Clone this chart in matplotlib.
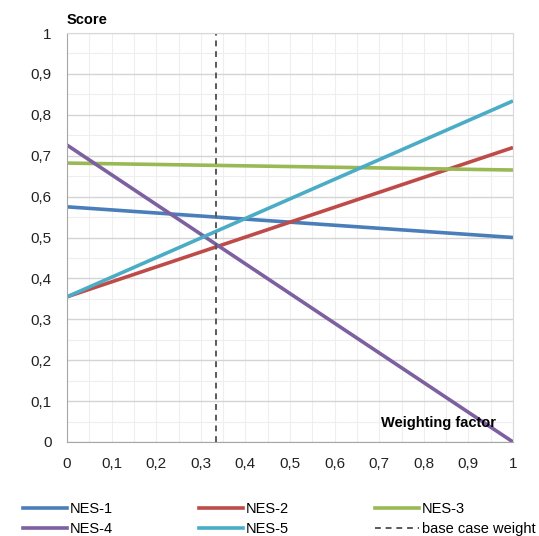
import matplotlib
matplotlib.use("Agg")
import matplotlib.pyplot as plt
from matplotlib.ticker import MultipleLocator, FuncFormatter
from matplotlib.lines import Line2D

plt.rcParams['font.family'] = ['Liberation Sans', 'DejaVu Sans']

# Weighting factor range (end points of each linear score line)
weights = [0.0, 1.0]
nes1 = [0.575, 0.500]
nes2 = [0.355, 0.720]
nes3 = [0.682, 0.665]
nes4 = [0.726, 0.000]
nes5 = [0.355, 0.834]
base_case_weight = 1 / 3

series_names = ["NES-1", "NES-2", "NES-3", "NES-4", "NES-5"]
series_values = [nes1, nes2, nes3, nes4, nes5]
series_colors = ["#4A7EBB", "#BE4B48", "#98B954", "#7D60A0", "#4BACC6"]

fig = plt.figure(figsize=(5.39, 5.36), dpi=100)
ax = fig.add_axes([0.1243, 0.1754, 0.8275, 0.763])

ax.set_xlim(0, 1)
ax.set_ylim(0, 1)

# grid: major every 0.1 horizontally, minor every 0.05
ax.xaxis.set_major_locator(MultipleLocator(0.1))
ax.yaxis.set_major_locator(MultipleLocator(0.1))
ax.xaxis.set_minor_locator(MultipleLocator(0.05))
ax.yaxis.set_minor_locator(MultipleLocator(0.05))
ax.grid(which='major', axis='y', color='#d4d4d4', linewidth=1.0)
ax.grid(which='minor', axis='y', color='#eeeeee', linewidth=0.8)
ax.grid(which='both', axis='x', color='#eeeeee', linewidth=0.8)
ax.set_axisbelow(True)

fmt = FuncFormatter(lambda v, p: ("%g" % round(v, 2)).replace('.', ','))
ax.xaxis.set_major_formatter(fmt)
ax.yaxis.set_major_formatter(fmt)
ax.tick_params(which='both', length=0, labelsize=11, colors='#222222')
ax.tick_params(axis='x', pad=11)
ax.tick_params(axis='y', pad=11)

for s in ax.spines.values():
    s.set_color('#d9d9d9')
ax.spines['left'].set_color('#a6a6a6')
ax.spines['bottom'].set_color('#a6a6a6')

for name, vals, col in zip(series_names, series_values, series_colors):
    ax.plot(weights, vals, color=col, linewidth=2.6, solid_capstyle='butt', label=name)

ax.axvline(base_case_weight, color='#595959', linestyle=(0, (3, 2.5)), linewidth=1.4)

ax.text(0.0, 1.032, "Score", transform=ax.transAxes, fontsize=10.5,
        fontweight='bold', ha='left', va='center')
ax.text(0.962, 0.047, "Weighting factor", transform=ax.transAxes, fontsize=10.5,
        fontweight='bold', ha='right', va='center')

handles = [Line2D([], [], color=c, linewidth=2.6) for c in series_colors]
handles.append(Line2D([], [], color='#595959', linestyle=(0, (3, 2.5)), linewidth=1.4))
labels = series_names + ["base case weight"]
order = [0, 3, 1, 4, 2, 5]
fig.legend([handles[i] for i in order], [labels[i] for i in order],
           loc='lower left', bbox_to_anchor=(0.019, -0.024), ncol=3,
           frameon=False, fontsize=10.5, handlelength=3.0, handletextpad=0.2,
           columnspacing=5.9, labelspacing=0.36)

fig.savefig("out.png", dpi=100)
